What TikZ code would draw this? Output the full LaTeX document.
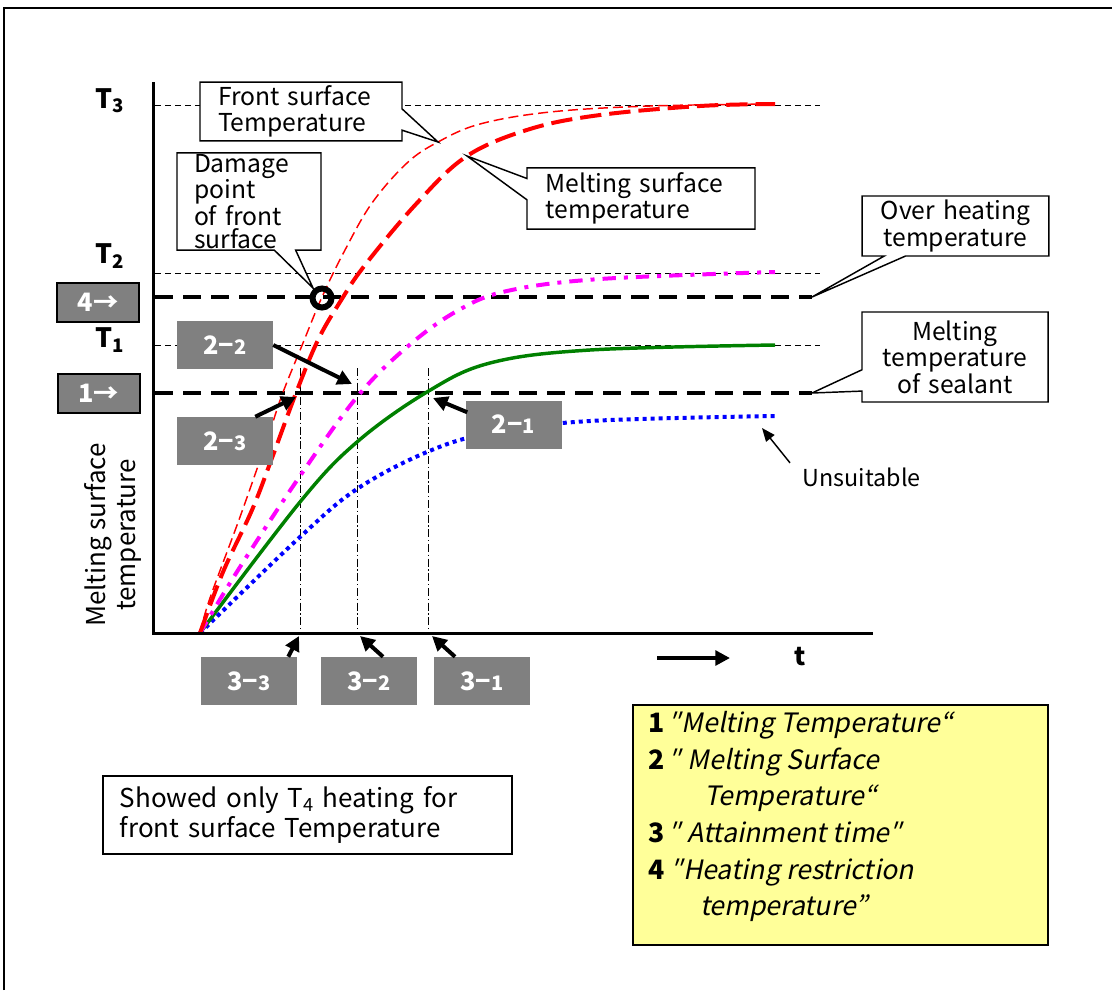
\documentclass[tikz,border=0pt]{standalone}
\usepackage{fontspec}
\setmainfont{Noto Sans CJK JP}[AutoFakeSlant=0.2]
\usetikzlibrary{arrows.meta,shapes.callouts,calc}
\definecolor{boxgray}{RGB}{128,128,128}
\definecolor{plotgreen}{RGB}{0,128,0}
\definecolor{plotpink}{RGB}{255,0,255}
\definecolor{legyellow}{RGB}{255,255,153}
\newcommand{\smdigit}[1]{{\fontsize{15}{15}\selectfont #1}}

\tikzset{
	lbl/.style={font=\fontsize{18.5}{19.5}\selectfont},
	tlbl/.style={font=\fontsize{20}{20}\selectfont\bfseries},
	callbox/.style={rectangle callout,draw,fill=white,line width=1.1pt,inner ysep=0pt,
		callout pointer width=16pt,lbl},
	keybox/.style={draw,line width=1.5pt,fill=boxgray,text=white,minimum width=61.5pt,
		minimum height=29pt,inner sep=0pt,font=\fontsize{19}{19}\selectfont\bfseries},
	greybox/.style={fill=boxgray,text=white,minimum width=72pt,minimum height=36pt,
		inner sep=0pt,font=\fontsize{19}{19}\selectfont\bfseries},
	thindash/.style={line width=0.75pt,dash pattern=on 4.5pt off 3pt},
	thickdash/.style={line width=3pt,dash pattern=on 13.5pt off 7.5pt},
	vline/.style={line width=0.75pt,dash pattern=on 6pt off 2pt on 1pt off 2pt},
	frontline/.style={red,line width=1.1pt,dash pattern=on 7.5pt off 3.75pt},
	meltline/.style={red,line width=3pt,dash pattern=on 16pt off 6pt},
	pinkline/.style={plotpink,line width=3pt,dash pattern=on 10pt off 6pt on 3pt off 6pt},
	greenline/.style={plotgreen,line width=2.6pt},
	blueline/.style={blue,line width=3pt,dash pattern=on 3pt off 3pt},
	fat/.style={line width=3pt,-{Triangle[length=11pt,width=11pt]}},
	slim/.style={line width=1.1pt,-{Triangle[length=10pt,width=8pt]}}
}

\begin{document}
\begin{tikzpicture}[x=0.75pt,y=-0.75pt]
	\useasboundingbox (0,0) rectangle (1112,990);
	\draw[line width=1.5pt] (4,990) -- (4,8) -- (1112,8);

	\coordinate (fsp) at (438,142);
	\coordinate (dpp) at (313,288);
	\coordinate (msp) at (467,156);
	\coordinate (ohp) at (812,297);
	\coordinate (mtp) at (812,393);
	\coordinate (x23) at (296,397);
	\coordinate (x22) at (352,384);
	\coordinate (x21) at (433,398);
	\coordinate (x33) at (299,636);
	\coordinate (x32) at (360,636);
	\coordinate (x31) at (432,636);
	\coordinate (usp) at (762,428);
	\coordinate (ta) at (657,658);
	\coordinate (tb) at (730,658);

	\foreach \y in {105,273,345}
		\draw[thindash] (155,\y) -- (820,\y);
	\draw[thickdash] (155,297) -- (ohp);
	\draw[thickdash] (155,393) -- (mtp);
	\foreach \x in {300,357,428}
		\draw[vline] (\x,368) -- (\x,633);

	\draw[blueline] plot[smooth,tension=0.6] coordinates {(200,633) (300,537) (357,489) (427,452) (490,433) (590,421) (775,416)};
	\draw[greenline] plot[smooth,tension=0.6] coordinates {(200,633) (300,502) (357,442) (427,392) (490,363) (590,350) (775,345)};
	\draw[pinkline] plot[smooth,tension=0.6] coordinates {(200,633) (240,567) (300,476) (357,397) (407,347) (457,311) (507,291) (600,279) (775,272)};
	\draw[meltline] plot[smooth,tension=0.6] coordinates {(200,633) (223,572) (252,510) (272,458) (296,393) (318,340) (340,302) (365,265) (417,203) (467,156) (530,129) (600,115) (700,106) (775,104)};
	\draw[frontline] plot[smooth,tension=0.6] coordinates {(200,633) (210,598) (240,517) (267,440) (282,395) (303,343) (322,297) (345,250) (372,203) (407,163) (438,142) (480,124) (550,112) (650,106) (775,104)};
	\draw[line width=4.5pt] (322,298) circle[radius=9.5];

	\draw[line width=2.25pt] (153,82) -- (153,633) -- (873,633);

	\node[tlbl] (T3) at (110,101) {T\textsubscript{3}};
	\node[tlbl] (T2) at (110,256) {T\textsubscript{2}};
	\node[tlbl] (T1) at (110,340) {T\textsubscript{1}};
	\node[keybox] (b4) at (98,302.5) {4→};
	\node[keybox] (b1) at (98.5,393.5) {1→};

	\node[callbox,align=left,text width=124.5pt,inner xsep=13.5pt,minimum height=44pt,
		callout absolute pointer={(fsp)}] (fs) at (301,111.5) {Front surface\\Temperature};
	\node[callbox,align=left,text width=82.5pt,inner xsep=12.75pt,minimum height=73pt,
		font=\fontsize{18.5}{17.25}\selectfont,callout absolute pointer={(dpp)}] (dp) at (249,201.5)
		{Damage\\point\\of front\\surface};
	\node[callbox,align=left,text width=143pt,inner xsep=14pt,minimum height=46pt,
		callout absolute pointer={(msp)}] (ms) at (641,198.5) {Melting surface\\temperature};
	\node[callbox,align=center,text width=124pt,inner xsep=8pt,minimum height=45pt,
		font=\fontsize{18.5}{20}\selectfont,callout absolute pointer={(ohp)}] (oh) at (955.5,226)
		{Over heating\\temperature};
	\node[callbox,align=center,text width=123.5pt,inner xsep=8pt,minimum height=67.5pt,
		font=\fontsize{18.5}{20}\selectfont,callout absolute pointer={(mtp)}] (mt) at (955,357)
		{Melting\\temperature\\of sealant};

	\node[greybox] (c22) at (225,345) {2−\smdigit{2}};
	\node[greybox] (c23) at (225,441) {2−\smdigit{3}};
	\node[greybox] (c21) at (513.5,424.5) {2−\smdigit{1}};
	\node[greybox] (c33) at (249,681) {3−\smdigit{3}};
	\node[greybox] (c32) at (369,681) {3−\smdigit{2}};
	\node[greybox] (c31) at (482,681) {3−\smdigit{1}};

	\draw[fat] (c22.east) -- (x22);
	\draw[fat] ($(c23.north east)+(-18,0)$) -- (x23);
	\draw[fat] ($(c21.north west)+(2,12)$) -- (x21);
	\draw[fat] ($(c33.north east)+(-9,0)$) -- (x33);
	\draw[fat] ($(c32.north)+(14,0)$) -- (x32);
	\draw[fat] ($(c31.north)+(-27,0)$) -- (x31);

	\node[font=\fontsize{17.5}{19.5}\selectfont,anchor=west] (us) at (798,477) {Unsuitable};
	\draw[slim] ($(us.north west)+(-8,0)$) -- (usp);
	\draw[fat] (ta) -- (tb);
	\node[font=\fontsize{19}{19}\selectfont\bfseries] (tl) at (800,657) {t};

	\node[font=\fontsize{19.5}{22}\selectfont,rotate=90,align=center] (ylab) at (113,535) {Melting surface\\temperature};

	\node[draw,line width=1.1pt,align=left,text width=281.5pt,inner xsep=12.75pt,
		minimum height=58.5pt,font=\fontsize{19.5}{22.5}\selectfont] (sh) at (307.5,815)
		{Showed only T\textsubscript{4} heating for\\front surface Temperature};

	\node[draw,line width=1.1pt,fill=legyellow,minimum width=311pt,minimum height=180pt,
		inner sep=0pt] (lg) at (840.5,825) {};
	\node[anchor=north west,align=left,inner sep=0pt,font=\fontsize{20}{27.5}\selectfont] (lgt) at (648,711)
		{{\bfseries 1}\,\textit{″Melting Temperature“}\\
		{\bfseries 2}\,\textit{″ Melting Surface}\\
		\hspace*{2.1em}\textit{Temperature“}\\
		{\bfseries 3}\,\textit{″ Attainment time″}\\
		{\bfseries 4} \textit{″Heating restriction}\\
		\hspace*{1.95em}\textit{temperature”}};
\end{tikzpicture}
\end{document}
